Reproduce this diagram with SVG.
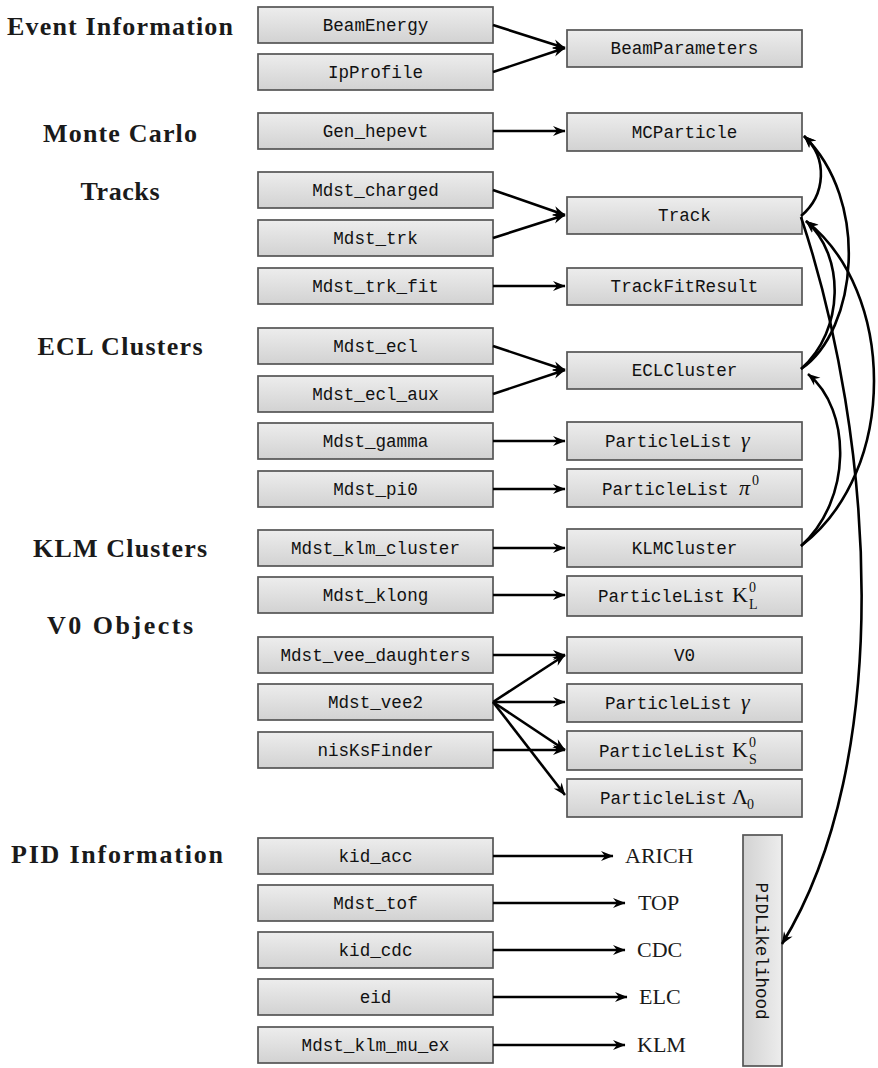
<svg xmlns="http://www.w3.org/2000/svg" width="878" height="1068" viewBox="0 0 878 1068">
<defs>
<linearGradient id="g" x1="0" y1="0" x2="0" y2="1">
<stop offset="0" stop-color="#ededed"/><stop offset="1" stop-color="#d2d2d2"/>
</linearGradient>
<linearGradient id="gv" x1="1" y1="0" x2="0" y2="0">
<stop offset="0" stop-color="#ededed"/><stop offset="1" stop-color="#d2d2d2"/>
</linearGradient>
<marker id="ah" viewBox="-13 -6 14 12" refX="0" refY="0" markerWidth="14" markerHeight="12" markerUnits="userSpaceOnUse" orient="auto">
<path d="M0.5,0 L-12,-5 L-8,0 L-12,5 z" fill="#000"/>
</marker>
</defs>
<style>
.bx{fill:url(#g);stroke:#555;stroke-width:1.7}
.bv{fill:url(#gv);stroke:#555;stroke-width:1.7}
.mono{font-family:"Liberation Mono",monospace;font-size:17.6px;fill:#111}
.lab{font-family:"Liberation Serif",serif;font-weight:bold;font-size:26px;fill:#1a1a1a;text-anchor:middle}
.det{font-family:"Liberation Serif",serif;font-size:22px;fill:#1a1a1a}
.m{text-anchor:middle}
.it{font-family:"Liberation Serif",serif;font-style:italic;font-size:22px}
.rm{font-family:"Liberation Serif",serif;font-size:22px}
.sc{font-family:"Liberation Serif",serif;font-size:14px}
.c{fill:none;stroke:#000;stroke-width:2.6;marker-end:url(#ah)}
</style>
<rect width="878" height="1068" fill="#fff"/>

<g id="labels">
<text class="lab" x="120" y="35" textLength="226">Event Information</text>
<text class="lab" x="120" y="142" textLength="154">Monte Carlo</text>
<text class="lab" x="120" y="200" textLength="79">Tracks</text>
<text class="lab" x="120" y="355" textLength="165">ECL Clusters</text>
<text class="lab" x="120" y="557" textLength="174">KLM Clusters</text>
<text class="lab" x="120" y="634" textLength="146">V0 Objects</text>
<text class="lab" x="117" y="863" textLength="212">PID Information</text>
</g>

<g id="BeamEnergy"><rect class="bx" x="258" y="7" width="235" height="36"/><text class="mono m" x="375.5" y="31">BeamEnergy</text></g>
<g id="IpProfile"><rect class="bx" x="258" y="54" width="235" height="36"/><text class="mono m" x="375.5" y="78">IpProfile</text></g>
<g id="Gen_hepevt"><rect class="bx" x="258" y="113" width="235" height="36"/><text class="mono m" x="375.5" y="137">Gen_hepevt</text></g>
<g id="Mdst_charged"><rect class="bx" x="258" y="172" width="235" height="36"/><text class="mono m" x="375.5" y="196">Mdst_charged</text></g>
<g id="Mdst_trk"><rect class="bx" x="258" y="220" width="235" height="36"/><text class="mono m" x="375.5" y="244">Mdst_trk</text></g>
<g id="Mdst_trk_fit"><rect class="bx" x="258" y="268" width="235" height="36"/><text class="mono m" x="375.5" y="292">Mdst_trk_fit</text></g>
<g id="Mdst_ecl"><rect class="bx" x="258" y="328" width="235" height="36"/><text class="mono m" x="375.5" y="352">Mdst_ecl</text></g>
<g id="Mdst_ecl_aux"><rect class="bx" x="258" y="376" width="235" height="36"/><text class="mono m" x="375.5" y="400">Mdst_ecl_aux</text></g>
<g id="Mdst_gamma"><rect class="bx" x="258" y="423" width="235" height="36"/><text class="mono m" x="375.5" y="447">Mdst_gamma</text></g>
<g id="Mdst_pi0"><rect class="bx" x="258" y="471" width="235" height="36"/><text class="mono m" x="375.5" y="495">Mdst_pi0</text></g>
<g id="Mdst_klm_cluster"><rect class="bx" x="258" y="530" width="235" height="36"/><text class="mono m" x="375.5" y="554">Mdst_klm_cluster</text></g>
<g id="Mdst_klong"><rect class="bx" x="258" y="577" width="235" height="36"/><text class="mono m" x="375.5" y="601">Mdst_klong</text></g>
<g id="Mdst_vee_daughters"><rect class="bx" x="258" y="637" width="235" height="36"/><text class="mono m" x="375.5" y="661">Mdst_vee_daughters</text></g>
<g id="Mdst_vee2"><rect class="bx" x="258" y="684" width="235" height="36"/><text class="mono m" x="375.5" y="708">Mdst_vee2</text></g>
<g id="nisKsFinder"><rect class="bx" x="258" y="732" width="235" height="36"/><text class="mono m" x="375.5" y="756">nisKsFinder</text></g>
<g id="kid_acc"><rect class="bx" x="258" y="838" width="235" height="36"/><text class="mono m" x="375.5" y="862">kid_acc</text></g>
<g id="Mdst_tof"><rect class="bx" x="258" y="885" width="235" height="36"/><text class="mono m" x="375.5" y="909">Mdst_tof</text></g>
<g id="kid_cdc"><rect class="bx" x="258" y="932" width="235" height="36"/><text class="mono m" x="375.5" y="956">kid_cdc</text></g>
<g id="eid"><rect class="bx" x="258" y="979" width="235" height="36"/><text class="mono m" x="375.5" y="1003">eid</text></g>
<g id="Mdst_klm_mu_ex"><rect class="bx" x="258" y="1027" width="235" height="36"/><text class="mono m" x="375.5" y="1051">Mdst_klm_mu_ex</text></g>

<g id="BeamParameters"><rect class="bx" x="567" y="30" width="235" height="37"/><text class="mono m" x="684.5" y="54">BeamParameters</text></g>
<g id="MCParticle"><rect class="bx" x="567" y="113" width="235" height="38"/><text class="mono m" x="684.5" y="138">MCParticle</text></g>
<g id="Track"><rect class="bx" x="567" y="197" width="235" height="37"/><text class="mono m" x="684.5" y="221">Track</text></g>
<g id="TrackFitResult"><rect class="bx" x="567" y="268" width="235" height="37"/><text class="mono m" x="684.5" y="292">TrackFitResult</text></g>
<g id="ECLCluster"><rect class="bx" x="567" y="352" width="235" height="37"/><text class="mono m" x="684.5" y="376">ECLCluster</text></g>
<g id="PL_gamma1"><rect class="bx" x="567" y="422" width="235" height="38"/><text class="mono" x="605" y="447">ParticleList<tspan class="it" x="741">γ</tspan></text></g>
<g id="PL_pi0"><rect class="bx" x="567" y="469" width="235" height="38"/><text class="mono" x="602" y="495">ParticleList<tspan class="it" x="739">π</tspan><tspan class="sc" x="752" dy="-10">0</tspan></text></g>
<g id="KLMCluster"><rect class="bx" x="567" y="529" width="235" height="38"/><text class="mono m" x="684.5" y="554">KLMCluster</text></g>
<g id="PL_K0L"><rect class="bx" x="567" y="576" width="235" height="40"/><text class="mono" x="598" y="602">ParticleList<tspan class="rm" x="732">K</tspan><tspan class="sc" x="749" dy="-10">0</tspan><tspan class="sc" x="749" dy="17">L</tspan></text></g>
<g id="V0"><rect class="bx" x="567" y="637" width="235" height="36"/><text class="mono m" x="684.5" y="661">V0</text></g>
<g id="PL_gamma2"><rect class="bx" x="567" y="684" width="235" height="38"/><text class="mono" x="605" y="709">ParticleList<tspan class="it" x="741">γ</tspan></text></g>
<g id="PL_K0S"><rect class="bx" x="567" y="731" width="235" height="39"/><text class="mono" x="599" y="757">ParticleList<tspan class="rm" x="732">K</tspan><tspan class="sc" x="749" dy="-10">0</tspan><tspan class="sc" x="749" dy="17">S</tspan></text></g>
<g id="PL_Lambda0"><rect class="bx" x="567" y="779" width="235" height="38"/><text class="mono" x="600" y="804">ParticleList<tspan class="rm" x="732">Λ</tspan><tspan class="sc" x="747" dy="5">0</tspan></text></g>

<g id="PIDLikelihood"><rect class="bv" x="743" y="835" width="39" height="231"/><text class="mono m" transform="translate(762 951) rotate(90)" x="0" y="6">PIDLikelihood</text></g>

<g id="detectors">
<text class="det" x="625" y="863">ARICH</text>
<text class="det" x="638" y="910">TOP</text>
<text class="det" x="637" y="957">CDC</text>
<text class="det" x="639" y="1004">ELC</text>
<text class="det" x="637" y="1052">KLM</text>
</g>

<g id="connectors">
<path class="c" d="M493,25 L565,48"/>
<path class="c" d="M493,72 L565,48"/>
<path class="c" d="M493,131 L565,131"/>
<path class="c" d="M493,190 L565,215"/>
<path class="c" d="M493,238 L565,215"/>
<path class="c" d="M493,286 L565,286"/>
<path class="c" d="M493,346 L565,370"/>
<path class="c" d="M493,394 L565,370"/>
<path class="c" d="M493,441 L565,441"/>
<path class="c" d="M493,489 L565,489"/>
<path class="c" d="M493,548 L565,548"/>
<path class="c" d="M493,595 L565,595"/>
<path class="c" d="M493,655 L565,655"/>
<path class="c" d="M493,702 L565,655"/>
<path class="c" d="M493,702 L565,702"/>
<path class="c" d="M493,702 L565,750"/>
<path class="c" d="M493,702 L565,795"/>
<path class="c" d="M493,750 L565,750"/>
<path class="c" d="M493,856 L613,856"/>
<path class="c" d="M493,903 L625,903"/>
<path class="c" d="M493,950 L625,950"/>
<path class="c" d="M493,997 L627,997"/>
<path class="c" d="M493,1045 L625,1045"/>
<path class="c" d="M801,216 C826,195 828,158 804,136"/>
<path class="c" d="M801,369 C858,330 870,200 804,136"/>
<path class="c" d="M801,369 C845,330 845,255 806,221"/>
<path class="c" d="M801,217 C875,440 895,760 782,944"/>
<path class="c" d="M801,546 C852,500 852,410 808,374"/>
<path class="c" d="M801,546 C900,470 895,290 806,221"/>
</g>
</svg>
